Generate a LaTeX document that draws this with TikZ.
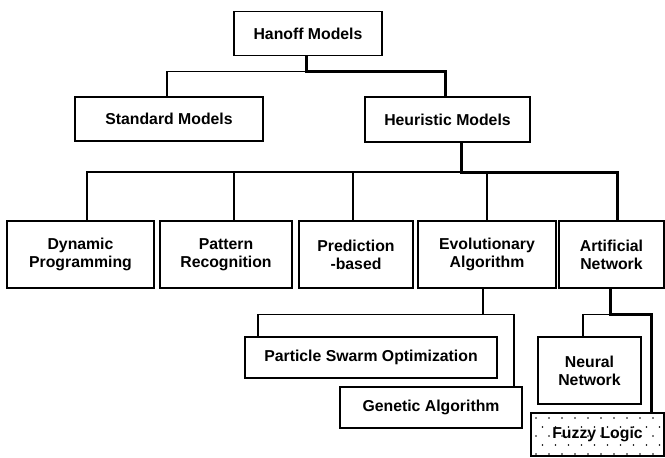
\documentclass[tikz,border=0pt]{standalone}
\usepackage{fontspec}
\setmainfont{Liberation Sans}
\usetikzlibrary{positioning}
\tikzset{box/.style = {draw, line width = 1.2, inner sep = 0, align = center, minimum height = 44, font = \fontsize{15.8}{18}\selectfont\bfseries}}
\tikzset{link/.style = {line width = 1.1}}
\tikzset{mainlink/.style = {line width = 3, line cap = rect}}

\begin{document}
\begin{tikzpicture}[x = 1pt, y = -1pt]
      \useasboundingbox (0, 0) rectangle (665, 458);

      % dotted ground of the last box
      \foreach \row in {0,1,2,3,4} {
        \pgfmathsetmacro{\shift}{mod(\row, 2) * 6.5}
        \foreach \col in {0,...,9} {
          \fill (536 + \shift + 13 * \col, 418 + 9 * \row) circle (0.8);
        }
      }

      \node [box, minimum width = 148] (hanoff) at (308, 33.5) {Hanoff Models};
      \node [box, minimum width = 188] (standard) at (169, 119) {Standard Models};
      \node [box, minimum width = 165, minimum height = 45] (heuristic) at (447.5, 119.5) {Heuristic Models};

      \node [box, minimum width = 147, minimum height = 67] (dynamic) at (80.5, 254.5) {Dynamic\\Programming};
      \node [box, minimum width = 132, minimum height = 67] (pattern) at (226, 254.5) {Pattern\\Recognition};
      \node [box, minimum width = 114, minimum height = 67] (prediction) at (356, 254.5) {Prediction\\-based};
      \node [box, minimum width = 138, minimum height = 67] (evol) at (487, 254.5) {Evolutionary\\Algorithm};
      \node [box, minimum width = 105, minimum height = 67] (artificial) at (611.5, 254.5) {Artificial\\Network};

      \node [box, minimum width = 252, minimum height = 41] (pso) at (371, 357.5) {Particle Swarm Optimization};
      \node [box, minimum width = 182, minimum height = 41] (genetic) at (431, 407.5) {Genetic Algorithm};
      \node [box, minimum width = 103, minimum height = 67] (neural) at (589.5, 370.5) {Neural\\Network};
      \node [box, minimum width = 133, minimum height = 43] (fuzzy) at (597.5, 434.5) {Fuzzy Logic};

      % thin branches
      \draw [link] ([xshift = -2]hanoff.south) ++(0, 15) -| ([xshift = -2]standard.north);
      \coordinate (hbus) at ([xshift = 13.5]heuristic.south |- 0, 172);
      \foreach \n/\dx in {dynamic/6.5, pattern/8, prediction/-3, evol/0} {
        \draw [link] ([xshift = \dx]\n.north) |- (hbus);
      }
      \draw [link] ([xshift = -4]evol.south) -- ++(0, 26) coordinate (ebus);
      \draw [link] ([xshift = -113]pso.north) |- (ebus) -| ([xshift = 83]genetic.north);
      \path ([xshift = -1.5]artificial.south) ++(0, 26) coordinate (abus);
      \draw [link] (abus) -| ([xshift = -6.5]neural.north);

      % heavy path down to the fuzzy box
      \draw [mainlink] ([xshift = -2]hanoff.south) -- ++(0, 15) -| ([xshift = -2.5]heuristic.north);
      \draw [mainlink] ([xshift = 13.5]heuristic.south) -- (hbus) -| ([xshift = 5.5]artificial.north);
      \draw [mainlink] ([xshift = -1.5]artificial.south) -- (abus) -| ([xshift = 53.5]fuzzy.north);
    \end{tikzpicture}
\end{document}
